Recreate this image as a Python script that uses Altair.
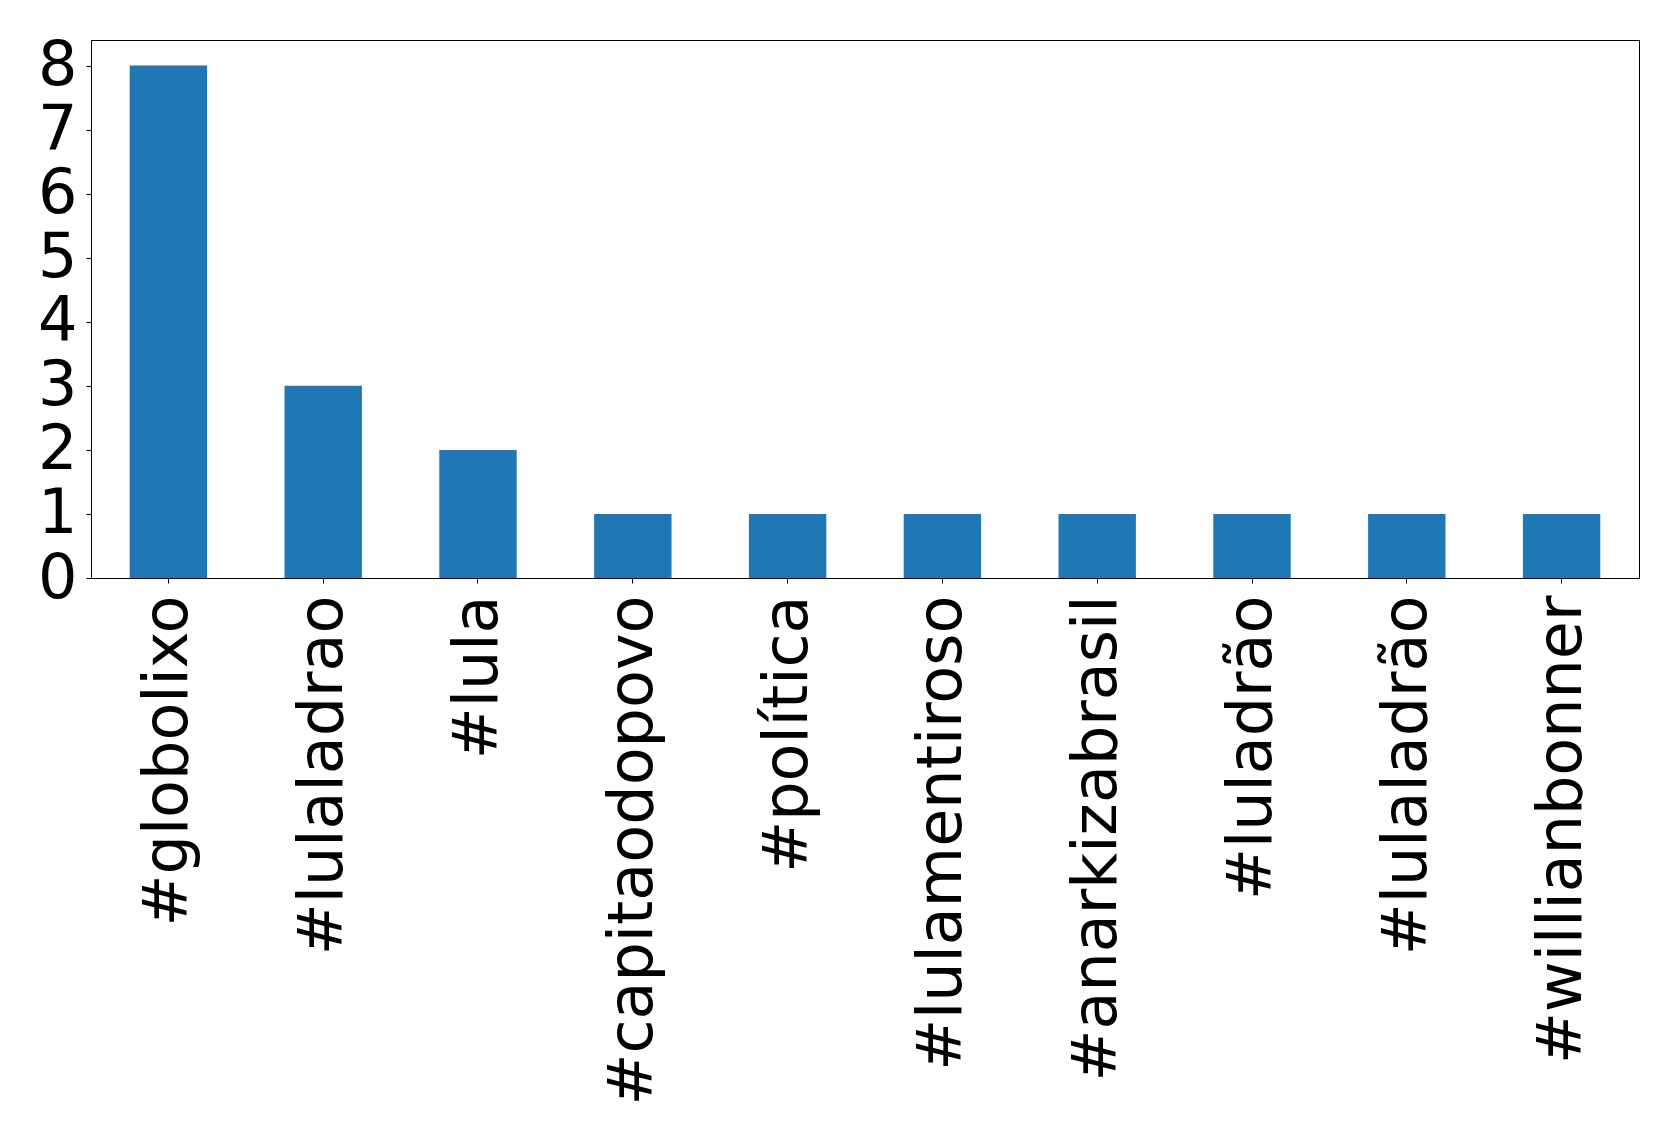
import altair as alt
import pandas as pd

hashtags = ["#globolixo", "#lulaladrao", "#lula", "#capitaodopovo", "#política",
            "#lulamentiroso", "#anarkizabrasil", "#luladrão", "#lulaladrão", "#willianbonner"]
counts = [8, 3, 2, 1, 1, 1, 1, 1, 1, 1]

df = pd.DataFrame({"hashtag": hashtags, "count": counts})

chart = alt.Chart(df).mark_bar(color="#1f77b4").encode(
    x=alt.X("hashtag:N", sort=hashtags,
            scale=alt.Scale(paddingInner=0.5, paddingOuter=0.25),
            axis=alt.Axis(title=None, labelAngle=270, labelAlign="right", labelBaseline="middle",
                          labelFontSize=62, labelFont="DejaVu Sans", labelColor="black",
                          labelLimit=0, labelPadding=12, tickSize=5, tickColor="black",
                          domainColor="black", labelOverlap=False)),
    y=alt.Y("count:Q", scale=alt.Scale(domain=[0, 8.4], nice=False, zero=True),
            axis=alt.Axis(title=None, values=[0, 1, 2, 3, 4, 5, 6, 7, 8], grid=False,
                          labelFontSize=62, labelFont="DejaVu Sans", labelColor="black",
                          labelPadding=9, tickSize=5, tickColor="black", domainColor="black",
                          labelOverlap=False, labelFlush=False)),
).properties(
    width=1548, height=538,
    autosize=alt.AutoSizeParams(type="none"),
    padding={"left": 83, "top": 32, "right": 30, "bottom": 540},
).configure_view(stroke="black", strokeWidth=1)

chart.save("out.html", embed_options={"renderer": "svg", "actions": False})
